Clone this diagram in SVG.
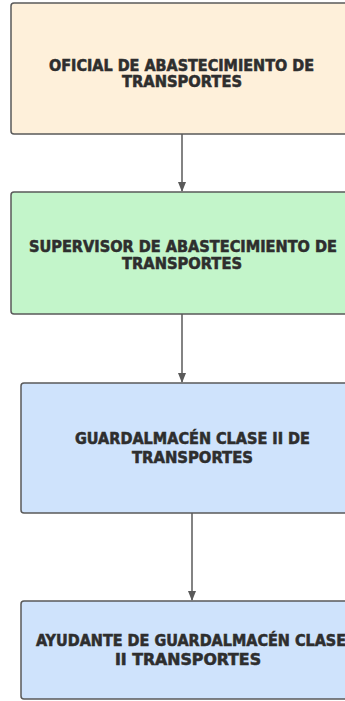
<svg xmlns="http://www.w3.org/2000/svg" width="345" height="701" viewBox="0 0 345 701">
<style>
.box{stroke:#5a5a5a;stroke-width:1.5}
.t{font-family:'DejaVu Sans Condensed','DejaVu Sans',sans-serif;font-stretch:condensed;font-weight:bold;font-size:15px;fill:#2e2e2e;stroke:#2e2e2e;stroke-width:0.5}
.c{stroke:#5a5a5a;stroke-width:1.5;fill:none}
</style>
<defs>
<marker id="ah" markerWidth="10" markerHeight="10" refX="9" refY="5" orient="auto" markerUnits="userSpaceOnUse">
<path d="M0,1 L10,5 L0,9 Z" fill="#5a5a5a"/>
</marker>
</defs>
<rect width="345" height="701" fill="#ffffff"/>
<g id="connectors">
<line class="c" x1="182" y1="134" x2="182" y2="191" marker-end="url(#ah)"/>
<line class="c" x1="182" y1="314" x2="182" y2="382" marker-end="url(#ah)"/>
<line class="c" x1="192" y1="513" x2="192" y2="600" marker-end="url(#ah)"/>
</g>
<g id="n1">
<rect class="box" x="11" y="3" width="342" height="131" rx="3" fill="#fef0da"/>
<text class="t" x="49" y="70.5" textLength="265" lengthAdjust="spacingAndGlyphs">OFICIAL DE ABASTECIMIENTO DE</text>
<text class="t" x="122" y="87" textLength="120" lengthAdjust="spacingAndGlyphs">TRANSPORTES</text>
</g>
<g id="n2">
<rect class="box" x="11" y="192" width="342" height="122" rx="3" fill="#c3f5ca"/>
<text class="t" x="29" y="252" textLength="308" lengthAdjust="spacingAndGlyphs">SUPERVISOR DE ABASTECIMIENTO DE</text>
<text class="t" x="122" y="269" textLength="120" lengthAdjust="spacingAndGlyphs">TRANSPORTES</text>
</g>
<g id="n3">
<rect class="box" x="21" y="383" width="342" height="130" rx="3" fill="#cfe3fc"/>
<text class="t" x="75" y="444" textLength="235" lengthAdjust="spacingAndGlyphs">GUARDALMACÉN CLASE II DE</text>
<text class="t" x="132" y="463" textLength="121" lengthAdjust="spacingAndGlyphs">TRANSPORTES</text>
</g>
<g id="n4">
<rect class="box" x="21" y="601" width="342" height="98" rx="3" fill="#cfe3fc"/>
<text class="t" x="36" y="646" textLength="310" lengthAdjust="spacingAndGlyphs">AYUDANTE DE GUARDALMACÉN CLASE</text>
<text class="t" x="115" y="665" textLength="146" lengthAdjust="spacingAndGlyphs">II TRANSPORTES</text>
</g>
</svg>
